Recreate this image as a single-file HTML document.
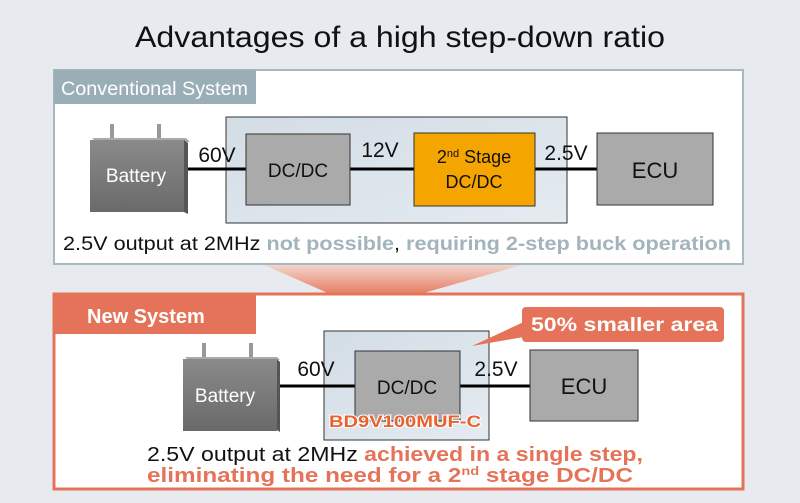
<!DOCTYPE html>
<html><head><meta charset="utf-8"><style>
body{margin:0;background:#e7eaee;}
svg{display:block}
text{font-family:"Liberation Sans",sans-serif}
</style></head><body>
<svg width="800" height="503" viewBox="0 0 800 503" xmlns="http://www.w3.org/2000/svg">
<defs>
<linearGradient id="fun" x1="0" y1="0" x2="0" y2="1"><stop offset="0" stop-color="#f3d7cf"/><stop offset="1" stop-color="#e57e62"/></linearGradient>
<linearGradient id="sh" x1="0" y1="0" x2="1" y2="1"><stop offset="0" stop-color="#d3dde6"/><stop offset="1" stop-color="#e4ebf1"/></linearGradient>
<linearGradient id="bat" x1="0" y1="0" x2="0" y2="1"><stop offset="0" stop-color="#8a8a8a"/><stop offset="1" stop-color="#6a6a6a"/></linearGradient>
</defs>
<rect width="800" height="503" fill="#e7eaee"/>
<text x="135" y="47" font-size="30" fill="#111" textLength="530" lengthAdjust="spacingAndGlyphs">Advantages of a high step-down ratio</text>
<polygon points="262,264 525,264 420,294 330,294" fill="url(#fun)"/>
<rect x="54" y="70" width="689" height="194" fill="#fff" stroke="#a9b7bf" stroke-width="2"/>
<rect x="54" y="70" width="202" height="34" fill="#9aaeb8"/>
<text x="61" y="95" font-size="19" fill="#fff" textLength="187" lengthAdjust="spacingAndGlyphs">Conventional System</text>
<rect x="226" y="117" width="341" height="106" fill="url(#sh)" stroke="#333" stroke-width="1"/>
<line x1="185" y1="169" x2="597" y2="169" stroke="#000" stroke-width="3"/>
<g>
<rect x="110" y="124" width="4" height="14" fill="#999"/><rect x="157" y="124" width="4" height="14" fill="#999"/>
<polygon points="92,138 186,138 190,142 96,142" fill="#aaa"/>
<rect x="90" y="140" width="94" height="72" fill="url(#bat)"/>
<polygon points="184,140 188,143 188,214 184,212" fill="#555"/>
<text x="136" y="182" font-size="19" fill="#fff" text-anchor="middle">Battery</text>
</g>
<text x="217" y="162" font-size="21" fill="#111" text-anchor="middle">60V</text>
<rect x="246" y="134" width="104" height="71" fill="#aaa" stroke="#333"/>
<text x="298" y="177" font-size="19" fill="#111" text-anchor="middle">DC/DC</text>
<text x="380" y="157" font-size="21" fill="#111" text-anchor="middle">12V</text>
<rect x="414" y="133" width="121" height="73" fill="#f5a500" stroke="#333"/>
<text x="474" y="163" font-size="18" fill="#111" text-anchor="middle">2<tspan font-size="11" dy="-6">nd</tspan><tspan dy="6"> Stage</tspan></text>
<text x="474" y="188" font-size="18" fill="#111" text-anchor="middle">DC/DC</text>
<text x="566" y="160" font-size="21" fill="#111" text-anchor="middle">2.5V</text>
<rect x="597" y="133" width="116" height="72" fill="#aaa" stroke="#333"/>
<text x="655" y="178" font-size="22" fill="#111" text-anchor="middle">ECU</text>
<text x="63" y="250" font-size="19" fill="#111" textLength="668" lengthAdjust="spacingAndGlyphs">2.5V output at 2MHz <tspan fill="#a2b4bc" font-weight="bold">not possible</tspan>, <tspan fill="#a2b4bc" font-weight="bold">requiring 2-step buck operation</tspan></text>
<rect x="54" y="294" width="689" height="195" fill="#fff" stroke="#e57359" stroke-width="3"/>
<rect x="54" y="294" width="202" height="40" fill="#e57359"/>
<text x="87" y="323" font-size="20" font-weight="bold" fill="#fff">New System</text>
<rect x="324" y="331" width="165" height="109" fill="url(#sh)" stroke="#333"/>
<line x1="277" y1="386" x2="530" y2="386" stroke="#000" stroke-width="3"/>
<g>
<rect x="202" y="343" width="4" height="14" fill="#999"/><rect x="249" y="343" width="4" height="14" fill="#999"/>
<polygon points="185,357 277,357 280,360 188,360" fill="#aaa"/>
<rect x="183" y="359" width="94" height="72" fill="url(#bat)"/>
<polygon points="277,359 280,362 280,432 277,430" fill="#555"/>
<text x="225" y="402" font-size="19" fill="#fff" text-anchor="middle">Battery</text>
</g>
<text x="316" y="376" font-size="21" fill="#111" text-anchor="middle">60V</text>
<rect x="355" y="351" width="105" height="70" fill="#aaa" stroke="#333"/>
<text x="407" y="394" font-size="19" fill="#111" text-anchor="middle">DC/DC</text>
<text x="329" y="427" font-size="17" font-weight="bold" fill="#e8622f" stroke="#fff" stroke-width="2" paint-order="stroke" textLength="152" lengthAdjust="spacingAndGlyphs">BD9V100MUF-C</text>
<text x="496" y="376" font-size="21" fill="#111" text-anchor="middle">2.5V</text>
<rect x="530" y="350" width="108" height="71" fill="#aaa" stroke="#333"/>
<text x="584" y="394" font-size="22" fill="#111" text-anchor="middle">ECU</text>
<polygon points="472,346 528,320 535,335" fill="#e57359"/>
<rect x="522" y="307" width="202" height="35" rx="4" fill="#e57359"/>
<text x="531" y="331" font-size="19" font-weight="bold" fill="#fff" textLength="187" lengthAdjust="spacingAndGlyphs">50% smaller area</text>
<text x="147" y="461" font-size="20" fill="#111" textLength="496" lengthAdjust="spacingAndGlyphs">2.5V output at 2MHz <tspan fill="#e57359" font-weight="bold">achieved in a single step,</tspan></text>
<text x="147" y="482" font-size="20" font-weight="bold" fill="#e57359" textLength="486" lengthAdjust="spacingAndGlyphs">eliminating the need for a 2<tspan font-size="12" dy="-7">nd</tspan><tspan dy="7"> stage DC/DC</tspan></text>
</svg>
</body></html>
